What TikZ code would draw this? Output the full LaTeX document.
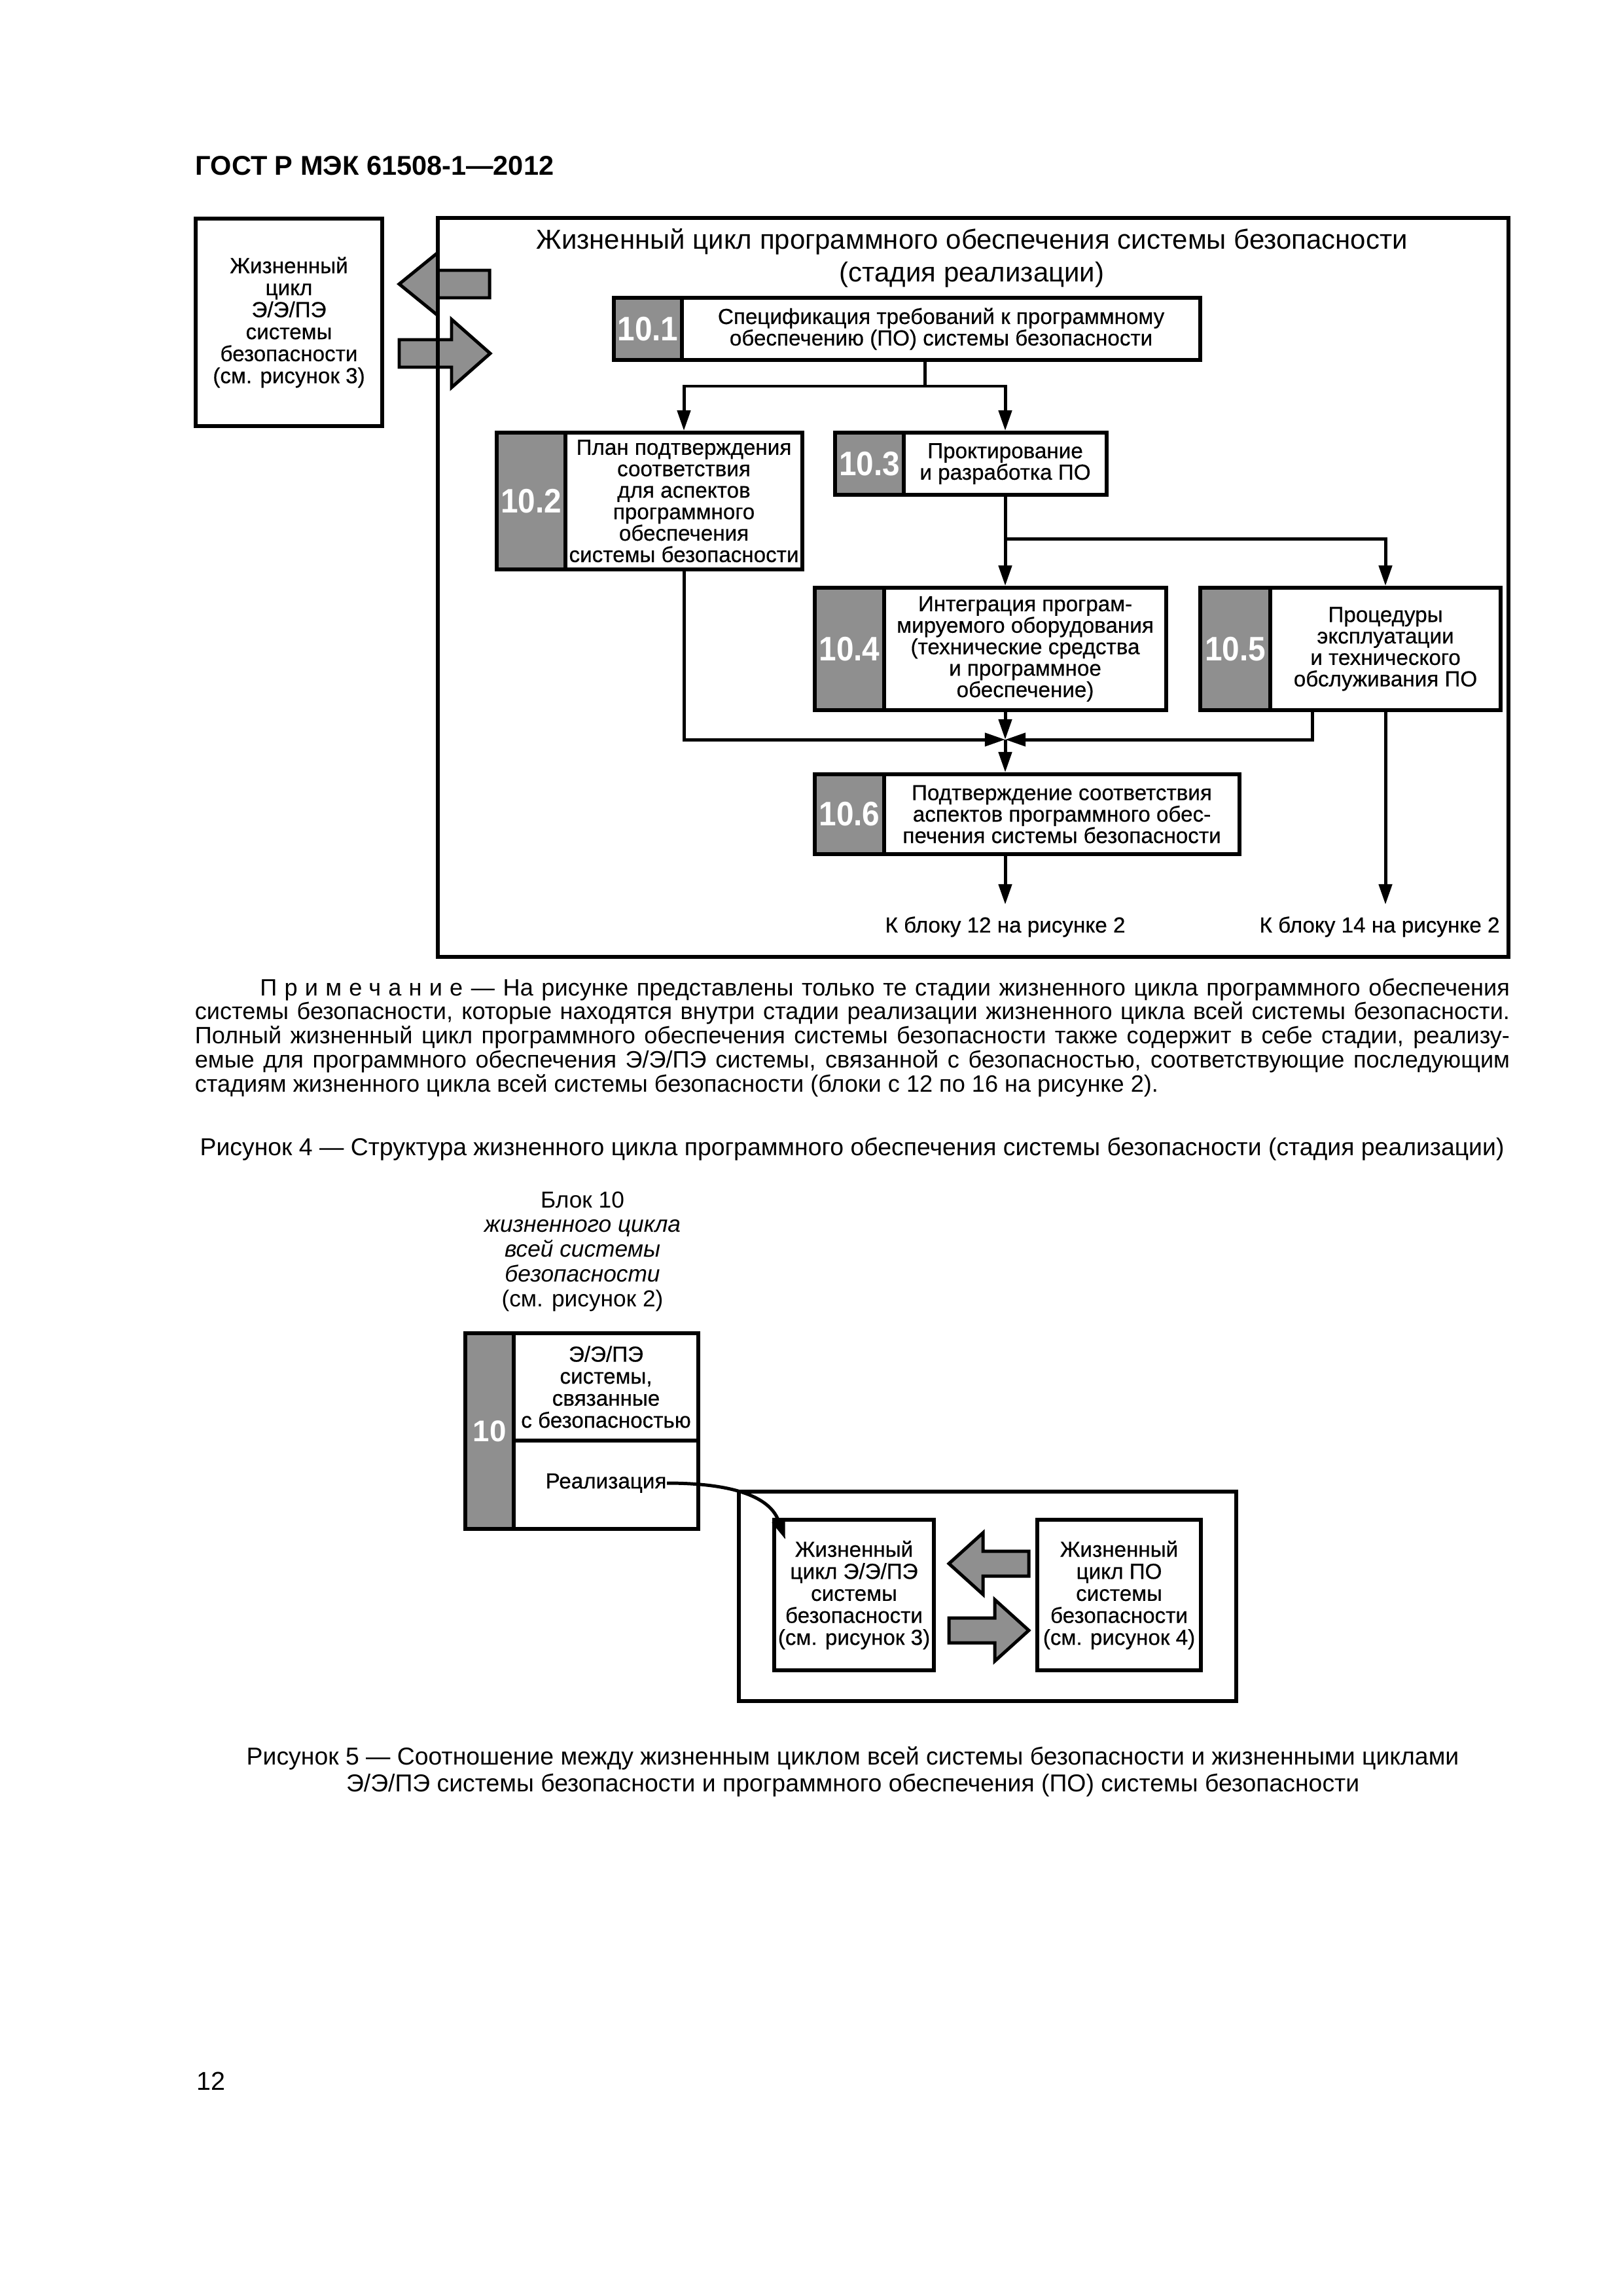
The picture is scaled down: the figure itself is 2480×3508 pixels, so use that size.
\documentclass[tikz,border=0pt]{standalone}
\usepackage{fontspec}
\setmainfont{Liberation Sans}
\newfontfamily\numfam[FakeStretch=0.92]{Liberation Sans}
\newfontfamily\diagfont[FakeBold=0.5]{Liberation Sans}
\usetikzlibrary{arrows.meta,positioning}
\definecolor{numgray}{HTML}{8F8F8F}
\definecolor{arrgray}{HTML}{8F8F8F}
\newcommand\pxu{0.2409pt}
\tikzset{
  sz/.style 2 args={minimum width=#1*\pxu, minimum height=#2*\pxu},
  outline/.style={draw=black, line width=1.4pt, inner sep=0pt},
  box/.style={draw=black, line width=1.4pt, fill=white, inner sep=0pt, align=center, font=\diagfont\fontsize{8}{7.9}\selectfont},
  num/.style={draw=black, line width=1.4pt, fill=numgray, text=white, inner sep=0pt, font=\numfam\bfseries\fontsize{12.5}{12.5}\selectfont},
  wire/.style={draw=black, line width=1.2pt},
  arr/.style={wire, -{Triangle[length=7.5pt,width=4.8pt]}},
  fat/.style={draw=black, line width=1.2pt, fill=arrgray, line join=miter},
  lab/.style={inner sep=0pt, align=center, font=\diagfont\fontsize{8}{7.9}\selectfont},
  captext/.style={inner sep=0pt, align=center, font=\fontsize{9}{10.1}\selectfont},
}
\begin{document}
\begin{tikzpicture}[x=\pxu, y=-\pxu]
% page
\fill[white] (0,0) rectangle (2480,3508);
\useasboundingbox (0,0) rectangle (2480,3508);

% header
\node[anchor=base west, inner sep=0pt, font=\bfseries\fontsize{10}{12}\selectfont] (gost) at (298,267) {ГОСТ Р МЭК 61508-1—2012};

% figure 4: E/E/PE life cycle and exchange arrows
\node[box, sz={285}{317}, font=\diagfont\fontsize{8}{8.1}\selectfont] (lcE) at (441.5,492.5)
  {Жизненный\\цикл\\Э/Э/ПЭ\\системы\\безопасности\\(см. рисунок 3)};
\draw[fat] (748,413) -- (669,413) -- (669,386) -- (610,434) -- (669,482) -- (669,455) -- (748,455) -- cycle;
\draw[fat] (610,519) -- (690,519) -- (690,488) -- (749,540) -- (690,592) -- (690,561) -- (610,561) -- cycle;

% software safety life cycle frame
\node[outline, sz={1636}{1129}] (lcS) at (1487,897.5) {};
\node[inner sep=0pt, align=center, font=\fontsize{10.1}{12}\selectfont] (lcStitle) at (1485,394)
  {Жизненный цикл программного обеспечения системы безопасности\\(стадия реализации)};

% stages 10.1 -- 10.6
\node[num, sz={104}{95}] (n101) at (990,502.5) {10.1};
\node[box, sz={792}{95}] (b101) at (1438,502.5)
  {Спецификация требований к программному\\обеспечению (ПО) системы безопасности};
\node[num, sz={105}{209}] (n102) at (811.5,765.5) {10.2};
\node[box, sz={362}{209}] (b102) at (1045,765.5)
  {План подтверждения\\соответствия\\для аспектов\\программного\\обеспечения\\системы безопасности};
\node[num, sz={105}{95}] (n103) at (1328.5,708.5) {10.3};
\node[box, sz={310}{95}] (b103) at (1536,708.5) {Проктирование\\и разработка ПО};
\node[num, sz={106}{187}] (n104) at (1298,991.5) {10.4};
\node[box, sz={431}{187}] (b104) at (1566.5,991.5)
  {Интеграция програм-\\мируемого оборудования\\(технические средства\\и программное\\обеспечение)};
\node[num, sz={107}{187}] (n105) at (1887.5,991.5) {10.5};
\node[box, sz={352}{187}] (b105) at (2117,991.5)
  {Процедуры\\эксплуатации\\и технического\\обслуживания ПО};
\node[num, sz={106}{122}] (n106) at (1298,1244) {10.6};
\node[box, sz={543}{122}] (b106) at (1622.5,1244)
  {Подтверждение соответствия\\аспектов программного обес-\\печения системы безопасности};

\node[lab] (to12) at (1536,1416) {К блоку 12 на рисунке 2};
\node[lab] (to14) at (2108,1416) {К блоку 14 на рисунке 2};

% connectors
\coordinate (fork1) at (1413,590);
\coordinate (fork2) at (1536,823);
\coordinate (join) at (1536,1130);
\coordinate (tap5) at (2005,1085);
\coordinate (tip12) at (1536,1382);
\coordinate (tip14) at (2117,1382);
\draw[wire] (b101.south -| fork1) -- (fork1);
\draw[arr] (fork1) -| (b102.north);
\draw[arr] (fork1) -| (b103.north);
\draw[arr] (b103.south) -- (b103.south |- b104.north);
\draw[arr] (fork2) -| (b105.north);
\draw[arr] (b102.south) |- (join);
\draw[arr] (b104.south -| join) -- (join);
\draw[arr] (b105.south -| tap5) |- (join);
\draw[arr] (join) -- (join |- b106.north);
\draw[arr] (b106.south -| join) -- (tip12);
\draw[arr] (b105.south) -- (tip14);

% note and caption
\node[anchor=base west, inner sep=0pt, text width=484pt, align=justify,
      font=\fontsize{8.7}{8.9}\selectfont] (note) at (297,1521)
  {\spaceskip=0.278em plus 0.6em minus 0.12em\relax
   \noindent\hspace*{24pt}{\addfontfeature{LetterSpace=31}Примечание} — На рисунке представлены только те стадии жизненного цикла программного обеспечения\linebreak
   системы безопасности, которые находятся внутри стадии реализации жизненного цикла всей системы безопасности.\linebreak
   Полный жизненный цикл программного обеспечения системы безопасности также содержит в себе стадии, реализу-\linebreak
   емые для программного обеспечения Э/Э/ПЭ системы, связанной с безопасностью, соответствующие последующим\linebreak
   стадиям жизненного цикла всей системы безопасности (блоки с 12 по 16 на рисунке 2).};
\node[captext, anchor=base] (fig4cap) at (1302,1765)
  {Рисунок 4 — Структура жизненного цикла программного обеспечения системы безопасности (стадия реализации)};

% figure 5: block 10
\node[inner sep=0pt, align=center, font=\fontsize{8.5}{9.1}\selectfont] (blk10title) at (890,1912)
  {Блок 10\\\textit{жизненного цикла}\\\textit{всей системы}\\\textit{безопасности}\\(см. рисунок 2)};
\node[num, sz={74}{299}, font=\bfseries\fontsize{11}{11}\selectfont] (n10) at (748,2186.5) {10};
\node[box, sz={282}{164}, font=\diagfont\fontsize{8}{8.1}\selectfont] (blk10top) at (926,2119)
  {Э/Э/ПЭ\\системы,\\связанные\\с безопасностью};
\node[box, sz={282}{135}] (blk10bot) at (926,2268.5) {};
\node[lab] (realiz) at (926,2266) {Реализация};

% figure 5: E/E/PE and software life cycles
\node[outline, sz={760}{320}, line width=1.3pt] (fig5frame) at (1509,2439) {};
\node[box, sz={244}{230}, font=\diagfont\fontsize{8}{8.1}\selectfont] (lcE5) at (1305,2437)
  {Жизненный\\цикл Э/Э/ПЭ\\системы\\безопасности\\(см. рисунок 3)};
\node[box, sz={250}{230}, font=\diagfont\fontsize{8}{8.1}\selectfont] (lcS5) at (1710,2437)
  {Жизненный\\цикл ПО\\системы\\безопасности\\(см. рисунок 4)};
\draw[fat] (1572,2370) -- (1502,2370) -- (1502,2342) -- (1450,2389) -- (1502,2436) -- (1502,2408) -- (1572,2408) -- cycle;
\draw[fat] (1450,2472) -- (1520,2472) -- (1520,2444) -- (1572,2491) -- (1520,2538) -- (1520,2510) -- (1450,2510) -- cycle;
\coordinate (tip5) at (1200,2352);
\draw[arr] (realiz.east) to[out=0,in=110] (tip5);

\node[captext] (fig5cap) at (1303,2707)
  {Рисунок 5 — Соотношение между жизненным циклом всей системы безопасности и жизненными циклами\\Э/Э/ПЭ системы безопасности и программного обеспечения (ПО) системы безопасности};

% page number
\node[anchor=base west, inner sep=0pt, font=\fontsize{9.5}{11}\selectfont] (pagenum) at (300,3193) {12};
\end{tikzpicture}
\end{document}
